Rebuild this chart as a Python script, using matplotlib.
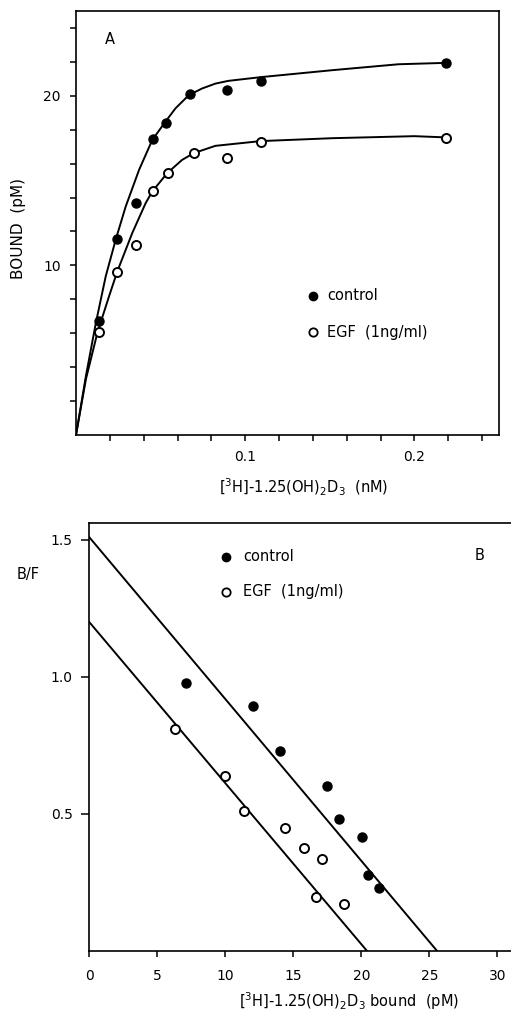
import matplotlib
matplotlib.use("Agg")
import matplotlib.pyplot as plt

# panel A: saturation binding
conc_ctrl = [0.0135, 0.0243, 0.0353, 0.0453, 0.0533, 0.0675, 0.0892, 0.1094, 0.2186]
bound_ctrl = [6.73, 11.53, 13.7, 17.44, 18.41, 20.12, 20.37, 20.9, 21.92]
conc_egf = [0.0135, 0.0243, 0.0353, 0.0453, 0.0543, 0.0698, 0.0892, 0.1094, 0.2186]
bound_egf = [6.05, 9.63, 11.19, 14.38, 15.42, 16.63, 16.36, 17.26, 17.5]

# fitted curves
curve_ctrl_x = [0, 0.0059, 0.0118, 0.0176, 0.0235, 0.0294, 0.0373, 0.0451, 0.0529, 0.0588,
                0.0667, 0.0745, 0.0824, 0.0900, 0.1092, 0.1514, 0.1906, 0.218]
curve_ctrl_y = [0, 3.5, 6.64, 9.37, 11.53, 13.48, 15.64, 17.40, 18.48, 19.26,
                20.04, 20.43, 20.72, 20.88, 21.1, 21.51, 21.86, 21.94]
curve_egf_x = [0, 0.0059, 0.0127, 0.0196, 0.0245, 0.0333, 0.0412, 0.0451, 0.0539, 0.0627,
               0.0696, 0.0824, 0.1092, 0.1514, 0.2, 0.218]
curve_egf_y = [0, 3.31, 6.05, 8.2, 9.67, 11.92, 13.68, 14.36, 15.44, 16.22,
               16.62, 17.05, 17.33, 17.5, 17.62, 17.55]

a_xticks = [0.02, 0.04, 0.06, 0.08, 0.1, 0.12, 0.14, 0.16, 0.18, 0.2, 0.22, 0.24]
a_xlabels = ["", "", "", "", "0.1", "", "", "", "", "0.2", "", ""]
a_yticks = [2, 4, 6, 8, 10, 12, 14, 16, 18, 20, 22, 24]
a_ylabels = ["", "", "", "", "10", "", "", "", "", "20", "", ""]

# panel B: Scatchard plot
sb_ctrl = [7.08, 12.0, 14.0, 17.5, 18.38, 20.02, 20.5, 21.3]
bf_ctrl = [0.979, 0.893, 0.729, 0.602, 0.481, 0.416, 0.276, 0.229]
sb_egf = [6.3, 9.95, 11.35, 14.4, 15.8, 17.1, 16.7, 18.7]
bf_egf = [0.811, 0.639, 0.510, 0.448, 0.376, 0.335, 0.197, 0.170]

# regression lines: (x, y) at the two axis intercepts
line_ctrl_x = [0, 25.55]
line_ctrl_y = [1.51, 0]
line_egf_x = [0, 20.4]
line_egf_y = [1.20, 0]

b_xticks = [0, 5, 10, 15, 20, 25, 30]
b_yticks = [0.5, 1.0, 1.5]

plt.rcParams['font.family'] = 'DejaVu Sans'
plt.rcParams['mathtext.fontset'] = 'dejavusans'

fig = plt.figure(figsize=(5.11, 10.14), dpi=100)

ms = 6.5
lw = 1.4

# ---- panel A
ax1 = fig.add_axes([76/511, 1-435/1014, 423/511, 424/1014])
ax1.plot(curve_ctrl_x, curve_ctrl_y, color='black', lw=lw, solid_joinstyle='round')
ax1.plot(curve_egf_x, curve_egf_y, color='black', lw=lw, solid_joinstyle='round')
ax1.plot(conc_ctrl, bound_ctrl, 'o', color='black', ms=ms)
ax1.plot(conc_egf, bound_egf, 'o', mfc='white', mec='black', mew=1.4, ms=ms)
ax1.set_xlim(0, 0.25)
ax1.set_ylim(0, 25)
ax1.set_xticks(a_xticks)
ax1.set_xticklabels(a_xlabels)
ax1.set_yticks(a_yticks)
ax1.set_yticklabels(a_ylabels)
ax1.tick_params(direction='out', length=4, width=1.1, labelsize=10, pad=7)
for s in ax1.spines.values():
    s.set_linewidth(1.2)

ax1.plot([0.14], [8.2], 'o', color='black', ms=6)
ax1.plot([0.14], [6.05], 'o', mfc='white', mec='black', mew=1.3, ms=6)
ax1.text(0.1484, 8.2, "control", fontsize=10.5, va='center', ha='left')
ax1.text(0.1484, 6.05, "EGF  (1ng/ml)", fontsize=10.5, va='center', ha='left')
ax1.text(0.02, 23.3, "A", fontsize=10.5, va='center', ha='center')

ax1.set_ylabel("BOUND  (pM)", fontsize=11, va='center')
ax1.yaxis.set_label_coords(-0.135, 0.486)
ax1.set_xlabel(r"[$^3$H]-1.25(OH)$_2$D$_3$  (nM)", fontsize=10.5, va='center')
ax1.xaxis.set_label_coords(0.539, -0.123)

# ---- panel B
ax2 = fig.add_axes([89.3/511, 1-950.7/1014, 421.7/511, 428/1014])
ax2.plot(line_ctrl_x, line_ctrl_y, color='black', lw=lw)
ax2.plot(line_egf_x, line_egf_y, color='black', lw=lw)
ax2.plot(sb_ctrl, bf_ctrl, 'o', color='black', ms=ms)
ax2.plot(sb_egf, bf_egf, 'o', mfc='white', mec='black', mew=1.4, ms=ms)
ax2.set_xlim(0, 31)
ax2.set_ylim(0, 1.563)
ax2.set_xticks(b_xticks)
ax2.set_xticklabels([str(t) for t in b_xticks])
ax2.set_yticks(b_yticks)
ax2.set_yticklabels(["%.1f" % t for t in b_yticks])
ax2.tick_params(axis='x', direction='out', length=4, width=1.1, labelsize=10, pad=9)
ax2.tick_params(axis='y', direction='out', length=6, width=1.1, labelsize=10, pad=6)
ax2.spines['right'].set_visible(False)
for s in ax2.spines.values():
    s.set_linewidth(1.2)

ax2.plot([10.05], [1.438], 'o', color='black', ms=6)
ax2.plot([10.05], [1.31], 'o', mfc='white', mec='black', mew=1.3, ms=6)
ax2.text(11.32, 1.438, "control", fontsize=10.5, va='center', ha='left')
ax2.text(11.32, 1.31, "EGF  (1ng/ml)", fontsize=10.5, va='center', ha='left')
ax2.text(28.7, 1.444, "B", fontsize=10.5, va='center', ha='center')

ax2.set_ylabel("B/F", fontsize=10.5, rotation=0, va='center', ha='center')
ax2.yaxis.set_label_coords(-0.145, 0.88)
ax2.set_xlabel(r"[$^3$H]-1.25(OH)$_2$D$_3$ bound  (pM)", fontsize=10.5, va='center')
ax2.xaxis.set_label_coords(0.616, -0.119)

fig.savefig("out.png", dpi=100)
